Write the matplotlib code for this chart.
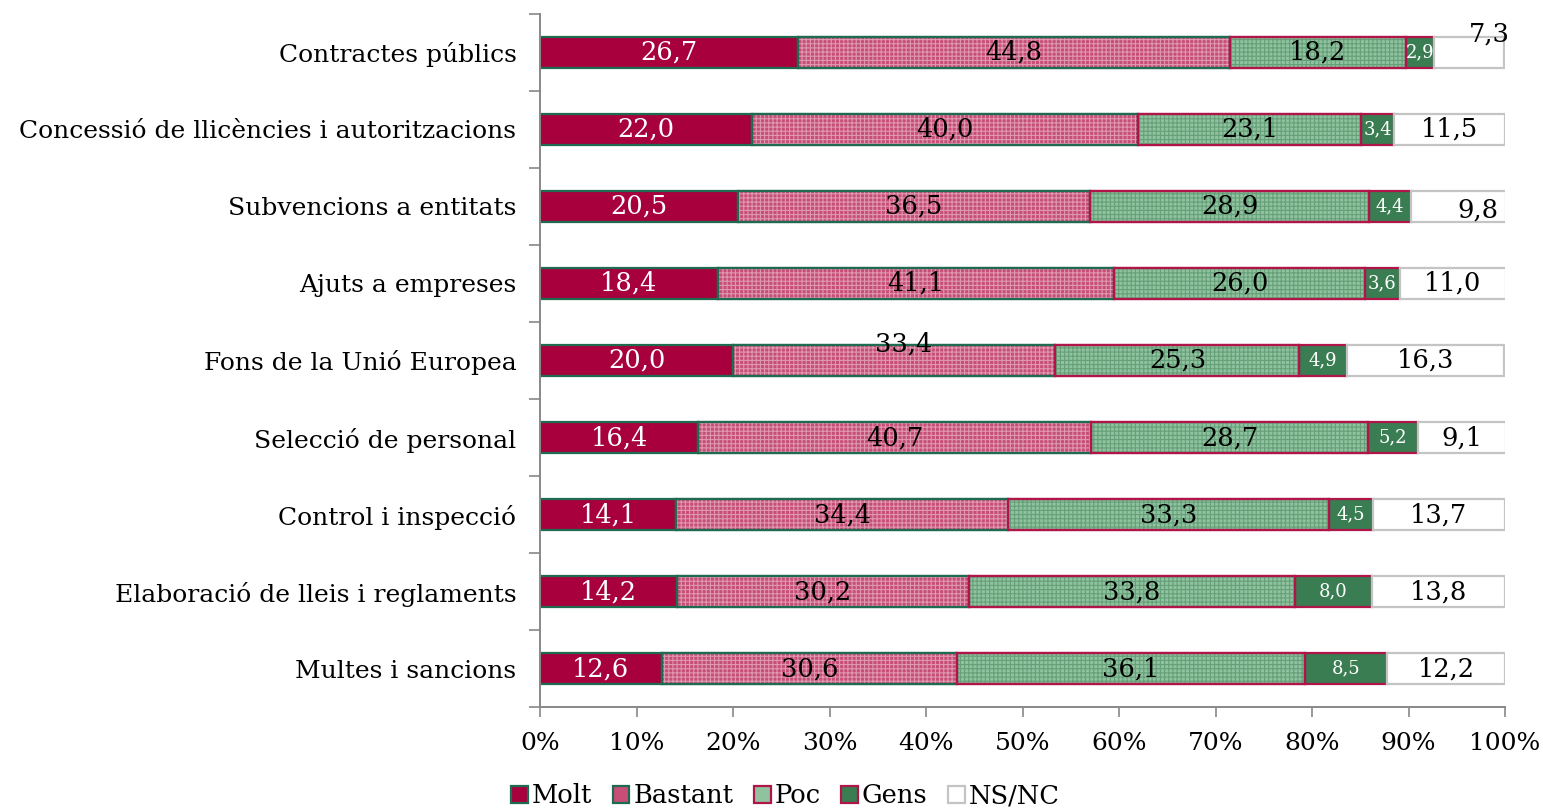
import numpy as np
import matplotlib.pyplot as plt

plt.rcParams['font.family'] = 'DejaVu Serif'

categories = ["Contractes públics", "Concessió de llicències i autoritzacions",
              "Subvencions a entitats", "Ajuts a empreses", "Fons de la Unió Europea",
              "Selecció de personal", "Control i inspecció",
              "Elaboració de lleis i reglaments", "Multes i sancions"]
series = ["Molt", "Bastant", "Poc", "Gens", "NS/NC"]
molt = [26.7, 22.0, 20.5, 18.4, 20.0, 16.4, 14.1, 14.2, 12.6]
bastant = [44.8, 40.0, 36.5, 41.1, 33.4, 40.7, 34.4, 30.2, 30.6]
poc = [18.2, 23.1, 28.9, 26.0, 25.3, 28.7, 33.3, 33.8, 36.1]
gens = [2.9, 3.4, 4.4, 3.6, 4.9, 5.2, 4.5, 8.0, 8.5]
nsnc = [7.3, 11.5, 9.8, 11.0, 16.3, 9.1, 13.7, 13.8, 12.2]

faces = ['#A8003C', '#C64E77', '#90C29F', '#3A7D52', 'white']
hatch_col = [None, '#DF98B0', '#65A079', None, None]
edges = ['#1E6B50', '#1E6B50', '#B0154A', '#B0154A', '#C4C4C4']
txt_col = ['white', 'black', 'black', 'white', 'black']
txt_size = [18.5, 18.5, 18.5, 13, 18.5]

fig = plt.figure(figsize=(15.43, 8.11), dpi=100)
ax = fig.add_axes([0.35, 0.128, 0.6254, 0.855])

y = np.arange(len(categories))[::-1]
left = np.zeros(len(categories))
data = [molt, bastant, poc, gens, nsnc]
h = 0.41
plt.rcParams['hatch.linewidth'] = 0.8
for i, vals in enumerate(data):
    vals = np.array(vals)
    ax.barh(y, vals, left=left, height=h, color=faces[i], edgecolor=edges[i],
            linewidth=1.6, label=series[i], zorder=2)
    if hatch_col[i]:
        ax.barh(y, vals, left=left, height=h, color='none', edgecolor=hatch_col[i],
                linewidth=0, hatch='++++', zorder=2.5)
        ax.barh(y, vals, left=left, height=h, color='none', edgecolor=edges[i],
                linewidth=1.6, zorder=2.6)
    for j, v in enumerate(vals):
        cx = left[j] + v / 2
        cy = y[j]
        # a few labels sit off-centre in the original
        if i == 4 and j == 0:
            cx, cy = cx + 2.1, cy + 0.24
        if i == 1 and j == 4:
            cx, cy = cx + 1.0, cy + 0.22
        if i == 4 and j == 2:
            cx, cy = cx + 2.0, cy - 0.05
        ax.text(cx, cy, f"{v:.1f}".replace('.', ','), ha='center', va='center',
                color=txt_col[i], fontsize=txt_size[i], zorder=4)
    left += vals

ax.set_xlim(0, 100)
ax.set_ylim(-0.5, len(categories) - 0.5)
ax.set_xticks(np.arange(0, 101, 10))
ax.set_xticklabels([f"{t}%" for t in range(0, 101, 10)], fontsize=18)
ax.set_yticks(y)
ax.set_yticklabels(categories, fontsize=18)
ax.set_yticks(np.arange(-0.5, len(categories), 1), minor=True)
ax.tick_params(axis='y', which='major', length=0, pad=17)
ax.tick_params(axis='y', which='minor', length=8, color='#888888', width=1.2)
ax.tick_params(axis='x', length=7, color='#888888', width=1.2, pad=11)
for s in ['top', 'right']:
    ax.spines[s].set_visible(False)
for s in ['left', 'bottom']:
    ax.spines[s].set_color('#888888')
    ax.spines[s].set_linewidth(1.4)

handles, labels = ax.get_legend_handles_labels()
fig.legend(handles[:5], labels[:5], loc='lower center', bbox_to_anchor=(0.509, -0.025),
           ncol=5, frameon=False, fontsize=18.5, handlelength=0.65, handleheight=0.65,
           handletextpad=0.15, columnspacing=0.8)

fig.savefig('out.png', dpi=100)
